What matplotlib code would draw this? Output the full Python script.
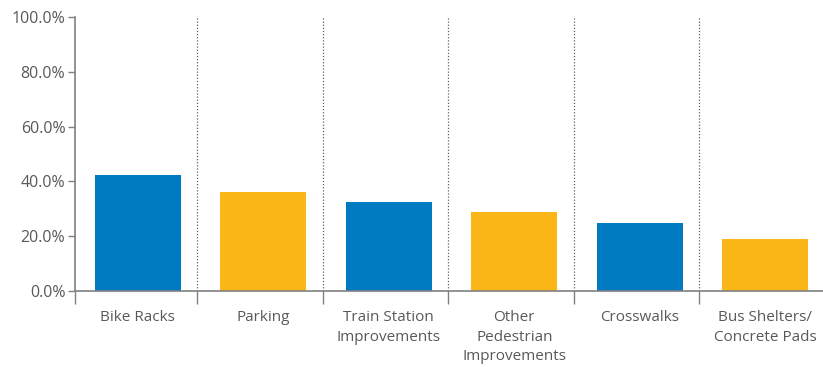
import matplotlib.pyplot as plt
import numpy as np

# Data
categories = ['Bike Racks', 'Parking', 'Train Station\nImprovements',
              'Other\nPedestrian\nImprovements', 'Crosswalks',
              'Bus Shelters/\nConcrete Pads']
values = [42.2, 36.0, 32.4, 28.7, 24.8, 18.9]
bar_colors = ['#007BC2', '#FBB617', '#007BC2', '#FBB617', '#007BC2', '#FBB617']

plt.rcParams['font.family'] = ['Open Sans', 'DejaVu Sans']
text_color = '#595959'
axis_color = '#808080'

fig = plt.figure(figsize=(8.23, 3.67), dpi=100)
ax = fig.add_axes([75 / 823, 1 - 291 / 367, (828 - 75) / 823, (291 - 17) / 367])
ax.set_clip_on(False)

x = np.arange(len(categories))
ax.bar(x, values, width=0.685, color=bar_colors, zorder=2)

ax.set_xlim(-0.5, len(categories) - 0.5)
ax.set_ylim(0, 100)

# y axis
ax.set_yticks(np.arange(0, 101, 20))
ax.set_yticklabels(['%.1f%%' % v for v in np.arange(0, 101, 20)])
ax.tick_params(axis='y', direction='out', length=5, width=1, color=axis_color,
               labelcolor=text_color, labelsize=11.5, pad=2)

# x axis: category labels centred, ticks at boundaries
ax.set_xticks(x)
ax.set_xticklabels(categories, linespacing=1.4)
ax.tick_params(axis='x', length=0, labelcolor=text_color, labelsize=11, pad=14)
bounds = np.arange(0.5, len(categories) - 0.5) - 0.025
ax.set_xticks(np.concatenate([[-0.5], bounds]), minor=True)
ax.tick_params(axis='x', which='minor', direction='out', length=9, width=1,
               color=axis_color)

# dotted separators between categories
for b in bounds:
    ax.axvline(b, ymin=0, ymax=1, color='#606060', linestyle=(0, (1, 1.5)),
               linewidth=0.9, zorder=1)

for side in ['top', 'right']:
    ax.spines[side].set_visible(False)
for side in ['left', 'bottom']:
    ax.spines[side].set_color(axis_color)
    ax.spines[side].set_linewidth(1.2)

fig.savefig('out.png', dpi=100)
